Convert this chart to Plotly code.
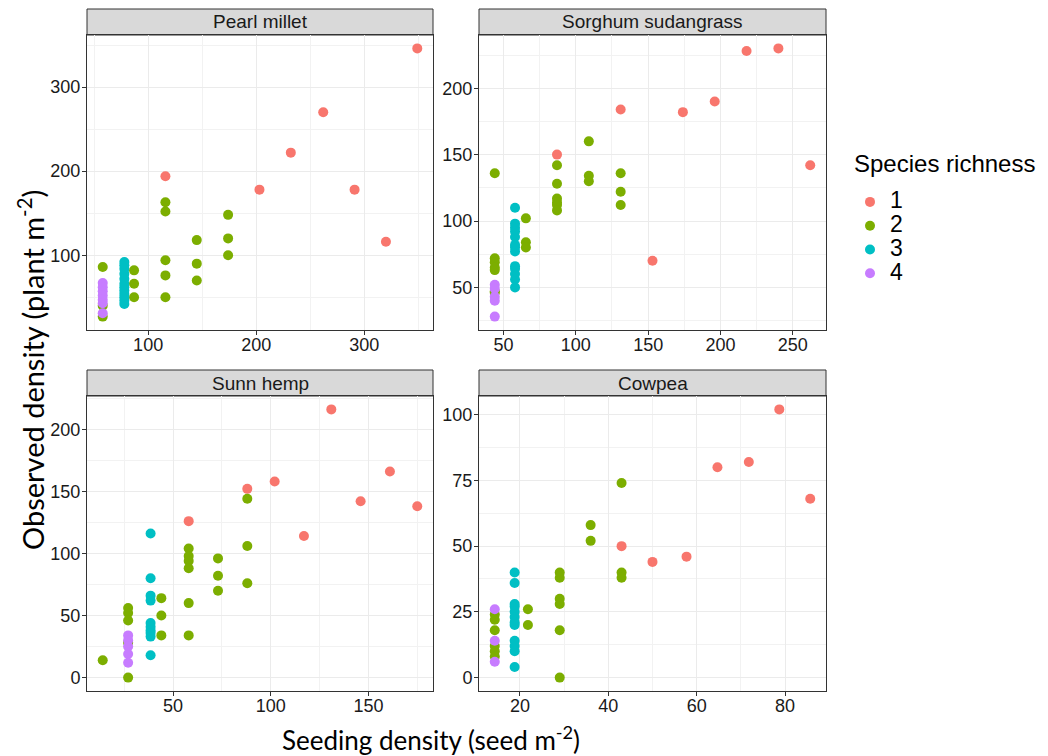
import plotly.graph_objects as go

# ---------------- data ----------------
panels = ["Pearl millet", "Sorghum sudangrass", "Sunn hemp", "Cowpea"]
richness_levels = ["1", "2", "3", "4"]
colors = ["#F8766D", "#7CAE00", "#00BFC4", "#C77CFF"]

# Pearl millet
pm_r1_x = [349, 262, 232, 116, 203, 291, 320]
pm_r1_y = [346, 270, 222, 194, 178, 178, 116]
pm_r2_x = [58, 58, 58, 87, 87, 87, 116, 116, 116, 116, 116, 145, 145, 145, 174, 174, 174]
pm_r2_y = [86, 40, 27, 82, 66, 50, 163, 152, 94, 76, 50, 118, 90, 70, 148, 120, 100]
pm_r3_x = [78] * 12
pm_r3_y = [92, 88, 84, 78, 72, 66, 62, 58, 54, 50, 46, 42]
pm_r4_x = [58] * 7
pm_r4_y = [67, 62, 57, 52, 47, 43, 31]

# Sorghum sudangrass
sg_r1_x = [240, 218, 196, 174, 131, 87, 262, 153]
sg_r1_y = [230, 228, 190, 182, 184, 150, 142, 70]
sg_r2_x = [44, 44, 44, 44, 44, 44, 44, 87, 87, 87, 87, 87, 87, 109, 109, 109, 131, 131, 131, 65.5, 65.5, 65.5]
sg_r2_y = [136, 72, 69, 65, 63, 47, 46, 142, 128, 117, 114, 112, 108, 160, 134, 130, 136, 122, 112, 102, 84, 80]
sg_r3_x = [58] * 13
sg_r3_y = [110, 98, 95, 92, 88, 82, 80, 77, 66, 64, 60, 56, 50]
sg_r4_x = [44] * 5
sg_r4_y = [52, 49, 43, 40, 28]

# Sunn hemp
sh_r1_x = [131, 161, 102, 88, 146, 175, 117, 58]
sh_r1_y = [216, 166, 158, 152, 142, 138, 114, 126]
sh_r2_x = [14, 27, 27, 27, 27, 27, 44, 44, 44, 58, 58, 58, 58, 58, 58, 73, 73, 73, 88, 88, 88]
sh_r2_y = [14, 56, 52, 46, 28, 0, 64, 50, 34, 104, 98, 94, 88, 60, 34, 96, 82, 70, 144, 106, 76]
sh_r3_x = [38.5] * 10
sh_r3_y = [116, 80, 66, 62, 44, 41, 38, 36, 33, 18]
sh_r4_x = [27] * 5
sh_r4_y = [34, 30, 25, 19, 12]

# Cowpea
cp_r1_x = [78.7, 71.8, 64.7, 85.7, 43, 57.7, 50]
cp_r1_y = [102, 82, 80, 68, 50, 46, 44]
cp_r2_x = [43, 43, 43, 36, 36, 29, 29, 29, 29, 29, 29, 21.8, 21.8, 14.3, 14.3, 14.3, 14.3, 14.3, 14.3]
cp_r2_y = [74, 40, 38, 58, 52, 40, 38, 30, 28, 18, 0, 26, 20, 24, 22, 18, 12, 10, 8]
cp_r3_x = [18.8] * 12
cp_r3_y = [40, 36, 28, 27, 25, 23, 21, 20, 14, 12, 10, 4]
cp_r4_x = [14.3] * 3
cp_r4_y = [26, 14, 6]

panel_data = [
    [(pm_r1_x, pm_r1_y), (pm_r2_x, pm_r2_y), (pm_r3_x, pm_r3_y), (pm_r4_x, pm_r4_y)],
    [(sg_r1_x, sg_r1_y), (sg_r2_x, sg_r2_y), (sg_r3_x, sg_r3_y), (sg_r4_x, sg_r4_y)],
    [(sh_r1_x, sh_r1_y), (sh_r2_x, sh_r2_y), (sh_r3_x, sh_r3_y), (sh_r4_x, sh_r4_y)],
    [(cp_r1_x, cp_r1_y), (cp_r2_x, cp_r2_y), (cp_r3_x, cp_r3_y), (cp_r4_x, cp_r4_y)],
]

x_dticks = [100, 50, 50, 20]
y_dticks = [100, 50, 50, 25]

# ---------------- layout geometry ----------------
OFF = 8                      # page body margin of the html page
W, H = 1048 - OFF, 756 - OFF
FONT = "Arial, Liberation Sans, sans-serif"
TITLE_FONT = "Lato, Carlito, Calibri, sans-serif"


def fx(px):
    return (px - OFF) / W


def fy(py):
    return 1 - (py - OFF) / H


px_x = [(87, 433), (479, 826), (87, 433), (479, 826)]
px_y = [(35, 330), (35, 330), (396, 691), (396, 691)]
strip_h = 26

fig = go.Figure()

for p in range(4):
    ax = "" if p == 0 else str(p + 1)
    for r in range(4):
        xs, ys = panel_data[p][r]
        fig.add_trace(go.Scatter(
            x=xs, y=ys, mode="markers",
            marker=dict(color=colors[r], size=10, line=dict(width=0)),
            name="<span style='font-size:23px'>" + richness_levels[r] + "</span>",
            legendgroup=richness_levels[r],
            showlegend=(p == 0),
            xaxis="x" + ax, yaxis="y" + ax,
        ))

    allx = [v for r in range(4) for v in panel_data[p][r][0]]
    ally = [v for r in range(4) for v in panel_data[p][r][1]]
    xmin, xmax = min(allx), max(allx)
    ymin, ymax = min(ally), max(ally)
    ex = (xmax - xmin) * 0.05
    ey = (ymax - ymin) * 0.05

    x0, x1 = px_x[p]
    y0, y1 = px_y[p]
    common = dict(
        showline=True, mirror=True, linecolor="#333333", linewidth=1,
        ticks="outside", ticklen=4, tickcolor="#333333", tickwidth=1,
        showgrid=True, gridcolor="#EBEBEB", gridwidth=1, zeroline=False,
        tickfont=dict(family=FONT, size=18, color="#1A1A1A"),
        tickmode="linear",
    )
    fig.update_layout({
        "xaxis" + ax: dict(
            domain=[fx(x0), fx(x1)], range=[xmin - ex, xmax + ex],
            anchor="y" + ax, tick0=0, dtick=x_dticks[p], ticklabelstandoff=-6,
            minor=dict(tick0=0, dtick=x_dticks[p] / 2, showgrid=True,
                       gridcolor="#F2F2F2", gridwidth=0.7, ticks=""),
            **common),
        "yaxis" + ax: dict(
            domain=[fy(y1), fy(y0)], range=[ymin - ey, ymax + ey],
            anchor="x" + ax, tick0=0, dtick=y_dticks[p], ticklabelstandoff=-2,
            minor=dict(tick0=0, dtick=y_dticks[p] / 2, showgrid=True,
                       gridcolor="#F2F2F2", gridwidth=0.7, ticks=""),
            **common),
    })
    # facet strip
    fig.add_shape(type="rect", xref="paper", yref="paper",
                  x0=fx(x0), x1=fx(x1), y0=fy(y0), y1=fy(y0 - strip_h),
                  fillcolor="#D9D9D9", line=dict(color="#333333", width=1), layer="below")
    fig.add_annotation(text=panels[p], xref="paper", yref="paper",
                       x=fx((x0 + x1) / 2), y=fy(y0 - strip_h / 2),
                       showarrow=False, xanchor="center", yanchor="middle",
                       font=dict(family=FONT, size=19, color="#1A1A1A"))

fig.add_annotation(text="Seeding density (seed m<sup>-2</sup>)", xref="paper", yref="paper",
                   x=fx(431), y=fy(738), showarrow=False, xanchor="center", yanchor="middle",
                   font=dict(family=TITLE_FONT, size=26, color="#000000"))
fig.add_annotation(text="Observed density (plant m<sup>-2</sup>)", xref="paper", yref="paper",
                   x=fx(31), y=fy(370), showarrow=False, textangle=-90,
                   xanchor="center", yanchor="middle",
                   font=dict(family=TITLE_FONT, size=29, color="#000000"))

# legend title
fig.add_annotation(text="Species richness", xref="paper", yref="paper",
                   x=fx(852), y=fy(163), showarrow=False, xanchor="left", yanchor="middle",
                   font=dict(family=FONT, size=24, color="#000000"))

fig.update_layout(
    width=W, height=H,
    margin=dict(l=0, r=0, t=0, b=0),
    paper_bgcolor="white", plot_bgcolor="white",
    font=dict(family=FONT),
    legend=dict(
        font=dict(family=FONT, size=16, color="#000000"),
        x=fx(850), y=fy(185), xanchor="left", yanchor="top",
        bgcolor="rgba(0,0,0,0)", tracegroupgap=0, itemwidth=30,
    ),
)

fig.write_html("out.html")
